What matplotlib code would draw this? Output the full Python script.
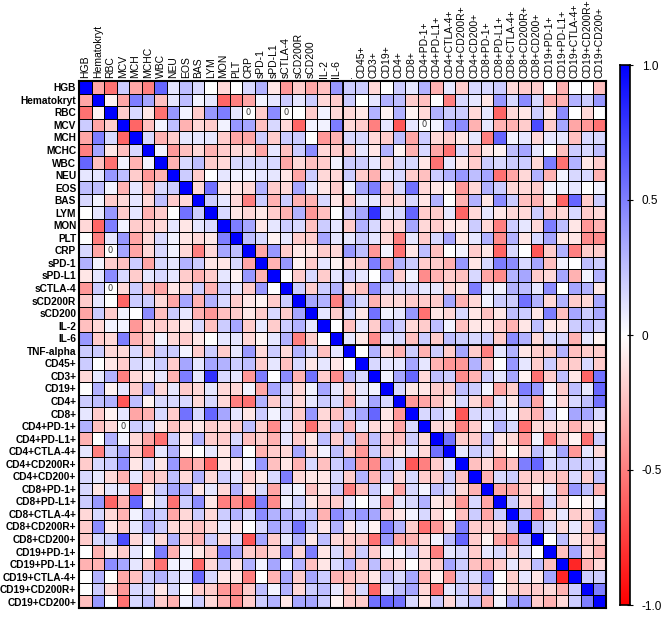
import numpy as np
import matplotlib
matplotlib.use("Agg")
import matplotlib.pyplot as plt
from matplotlib.colors import LinearSegmentedColormap

row_labels = ["HGB", "Hematokryt", "RBC", "MCV", "MCH", "MCHC", "WBC", "NEU", "EOS", "BAS",
              "LYM", "MON", "PLT", "CRP", "sPD-1", "sPD-L1", "sCTLA-4", "sCD200R", "sCD200",
              "IL-2", "IL-6", "TNF-alpha", "CD45+", "CD3+", "CD19+", "CD4+", "CD8+",
              "CD4+PD-1+", "CD4+PD-L1+", "CD4+CTLA-4+", "CD4+CD200R+", "CD4+CD200+",
              "CD8+PD-1+", "CD8+PD-L1+", "CD8+CTLA-4+", "CD8+CD200R+", "CD8+CD200+",
              "CD19+PD-1+", "CD19+PD-L1+", "CD19+CTLA-4+", "CD19+CD200R+", "CD19+CD200+"]
# the TNF-alpha column label is cut off in the original, only a dot shows
col_labels = row_labels[:21] + ["."] + row_labels[22:]

# lower triangle of the correlation matrix, row i holds columns 0..i-1
lower = [
    [],
    [-0.35],
    [-0.55, -0.05],
    [0.2, -0.35, -0.2],
    [-0.35, 0.5, 0.15, -0.6],
    [-0.5, 0.35, -0.1, -0.25, 0.15],
    [0.6, -0.25, -0.55, 0.05, -0.3, 0.05],
    [0.1, 0.1, 0.4, 0.25, -0.2, -0.4, -0.3],
    [0.25, 0.25, 0.05, -0.3, 0.1, -0.25, 0.15, 0.2],
    [0.15, 0.05, -0.2, -0.15, 0.1, -0.15, 0.25, -0.2, -0.15],
    [0.0, 0.1, 0.4, -0.2, 0.1, -0.3, -0.2, 0.0, 0.55, 0.2],
    [-0.15, -0.6, 0.5, 0.05, -0.2, -0.2, -0.15, 0.1, -0.1, 0.1, 0.15],
    [0.0, -0.5, 0.1, 0.4, -0.35, -0.15, 0.15, 0.05, -0.1, -0.15, -0.1, 0.5],
    [0.15, -0.35, 0.0, 0.35, -0.35, -0.15, 0.15, 0.05, -0.15, -0.5, -0.15, 0.35, 0.25],
    [0.3, 0.05, -0.2, -0.25, 0.2, -0.35, 0.15, 0.1, 0.3, 0.2, -0.1, -0.1, 0.15, -0.35],
    [-0.1, 0.1, 0.45, 0.15, -0.2, 0.1, 0.15, 0.1, -0.2, -0.3, -0.2, 0.1, -0.05, 0.4, -0.3],
    [-0.4, 0.2, 0.0, -0.15, 0.2, -0.25, -0.35, -0.1, -0.15, 0.2, -0.3, 0.2, 0.1, -0.2, 0.4, 0.0],
    [-0.2, 0.1, 0.0, -0.6, 0.2, 0.2, -0.15, -0.35, 0.35, -0.3, 0.3, 0.15, -0.2, -0.1, -0.05,
     -0.2, 0.2],
    [-0.35, 0.2, -0.2, 0.05, 0.0, 0.45, -0.25, 0.2, 0.1, -0.3, -0.4, -0.25, -0.2, -0.1, -0.2,
     0.15, -0.2, 0.35],
    [-0.25, -0.15, 0.05, 0.05, -0.4, -0.15, -0.2, -0.15, -0.1, 0.15, -0.25, 0.2, 0.35, -0.2,
     0.1, -0.2, 0.2, 0.3, 0.1],
    [0.4, -0.2, -0.15, 0.5, -0.3, -0.2, 0.05, -0.15, -0.2, -0.1, 0.0, 0.1, 0.1, -0.15, -0.05,
     0.1, 0.3, -0.5, -0.2, 0.0],
    [0.2, 0.2, -0.15, -0.15, 0.15, -0.2, 0.2, 0.2, 0.05, -0.2, 0.2, -0.2, 0.1, 0.4, -0.15,
     0.2, -0.15, 0.3, 0.15, -0.25, 0.1],
    [0.2, 0.0, -0.1, -0.2, 0.15, 0.1, 0.2, -0.2, 0.35, 0.1, 0.35, 0.3, 0.2, 0.25, -0.2, 0.1,
     -0.25, 0.15, -0.1, 0.1, -0.1, 0.0],
    [-0.15, 0.1, 0.3, -0.5, -0.15, -0.1, 0.1, -0.3, 0.5, 0.1, 0.8, 0.15, 0.1, -0.4, 0.5, 0.0,
     0.45, -0.3, 0.55, -0.2, -0.45, 0.3, 0.15],
    [0.0, 0.3, -0.05, 0.1, -0.2, 0.3, -0.15, 0.1, -0.2, -0.15, 0.1, -0.15, -0.15, 0.05, -0.35,
     0.35, 0.15, -0.15, 0.05, 0.35, 0.1, -0.15, 0.1, 0.05],
    [0.2, 0.25, 0.3, -0.65, 0.25, -0.05, 0.15, 0.15, 0.15, -0.15, 0.15, -0.15, -0.5, -0.55,
     0.3, -0.2, 0.15, -0.15, 0.1, 0.2, 0.15, -0.3, 0.1, 0.35, 0.15],
    [0.1, -0.2, -0.05, 0.1, -0.35, -0.3, 0.15, -0.2, 0.55, 0.15, 0.6, 0.35, 0.1, -0.1, 0.2,
     0.05, 0.15, -0.2, 0.4, -0.15, -0.25, 0.2, 0.35, 0.6, -0.1, -0.4],
    [0.3, -0.25, -0.15, 0.0, 0.2, 0.15, -0.1, -0.25, -0.15, -0.1, -0.2, -0.15, -0.2, 0.25,
     -0.2, -0.45, 0.1, -0.2, -0.55, -0.2, 0.2, -0.3, 0.1, -0.15, -0.1, -0.35, 0.15],
    [-0.3, 0.0, 0.3, 0.05, -0.15, -0.35, -0.55, 0.2, -0.1, 0.3, -0.2, -0.2, 0.15, -0.25, -0.2,
     -0.3, 0.1, -0.2, -0.1, 0.25, -0.2, 0.2, -0.3, 0.25, -0.2, -0.25, 0.2, -0.15],
    [0.1, -0.5, 0.2, 0.35, -0.2, -0.55, 0.1, 0.3, -0.05, 0.0, 0.1, -0.1, 0.35, 0.0, -0.3, -0.2,
     -0.15, 0.35, -0.15, 0.05, 0.25, -0.2, -0.4, 0.2, -0.2, -0.1, 0.1, -0.15, 0.55],
    [-0.2, 0.15, 0.2, 0.45, -0.1, 0.15, -0.1, 0.4, -0.4, -0.3, -0.6, -0.1, -0.1, 0.05, 0.4,
     -0.25, -0.1, -0.3, 0.15, -0.25, 0.2, 0.35, -0.4, -0.45, 0.25, 0.15, -0.65, -0.5, -0.2, 0.1],
    [0.15, 0.1, -0.15, -0.3, 0.1, -0.25, -0.2, 0.25, -0.15, 0.3, -0.15, 0.2, 0.1, -0.2, -0.1,
     0.15, 0.5, -0.15, -0.1, -0.1, 0.15, -0.2, 0.3, -0.3, 0.2, -0.15, 0.15, -0.2, -0.2, 0.2,
     -0.25],
    [0.15, -0.1, 0.1, 0.1, -0.5, -0.1, 0.2, 0.35, 0.3, -0.1, 0.1, -0.15, 0.3, -0.1, 0.15, -0.35,
     0.1, 0.05, -0.25, -0.1, 0.2, -0.5, -0.25, 0.2, 0.05, -0.35, 0.15, 0.05, 0.25, 0.15, -0.15,
     -0.3],
    [0.2, 0.4, -0.6, -0.3, 0.6, -0.05, 0.15, -0.55, 0.2, 0.45, -0.1, -0.5, -0.45, -0.6, 0.5,
     -0.45, 0.05, 0.2, -0.1, -0.2, -0.2, 0.1, 0.0, 0.1, -0.35, 0.1, 0.15, 0.3, -0.1, -0.15,
     -0.4, 0.15, -0.35],
    [-0.15, 0.15, -0.15, -0.3, 0.05, 0.25, 0.2, -0.35, -0.15, 0.2, -0.15, 0.2, 0.3, 0.15, 0.45,
     0.3, 0.3, 0.2, 0.25, -0.3, 0.45, 0.3, 0.4, 0.35, -0.2, -0.1, 0.05, 0.15, -0.15, 0.0,
     -0.25, 0.2, -0.35, 0.2],
    [-0.2, 0.45, -0.1, -0.2, 0.1, 0.35, 0.2, -0.15, -0.15, -0.25, -0.15, 0.1, -0.1, 0.0, 0.15,
     0.35, 0.25, 0.55, 0.2, -0.1, 0.3, -0.1, 0.1, -0.05, 0.5, 0.3, -0.2, -0.55, -0.4, -0.15,
     0.5, -0.2, -0.2, -0.15, 0.25],
    [-0.2, 0.15, 0.2, 0.7, -0.15, 0.1, -0.15, 0.3, -0.2, -0.3, 0.2, -0.15, 0.15, -0.65, 0.35,
     -0.2, 0.1, 0.3, -0.1, 0.25, -0.15, -0.2, -0.2, -0.55, 0.4, -0.35, -0.3, -0.15, 0.05, 0.25,
     0.6, -0.2, -0.05, -0.35, -0.45, 0.25],
    [0.0, -0.3, -0.1, -0.2, 0.1, 0.0, 0.5, -0.3, 0.05, -0.1, -0.2, 0.5, 0.35, -0.2, -0.25,
     -0.15, 0.45, -0.15, 0.5, -0.1, 0.15, -0.2, 0.2, -0.2, 0.05, 0.05, 0.15, -0.15, -0.5, 0.1,
     0.15, -0.2, 0.1, 0.15, -0.15, 0.15, 0.0],
    [-0.3, -0.3, 0.45, 0.35, 0.1, -0.25, -0.55, 0.05, 0.05, -0.6, -0.15, 0.25, -0.1, 0.3, 0.05,
     0.35, 0.0, 0.3, -0.25, -0.1, 0.15, 0.3, -0.2, 0.25, -0.2, -0.15, 0.0, -0.15, -0.2, 0.35,
     0.2, -0.25, -0.3, -0.2, 0.1, -0.15, 0.25, -0.25],
    [0.0, 0.3, 0.0, -0.35, -0.25, 0.2, 0.3, 0.15, 0.1, 0.6, 0.15, -0.1, -0.1, -0.5, 0.0, -0.3,
     0.35, -0.2, 0.35, 0.2, -0.3, -0.25, -0.2, -0.1, 0.25, 0.15, 0.35, -0.3, -0.05, -0.4, 0.2,
     0.15, 0.4, 0.0, -0.2, 0.1, -0.1, 0.35, -0.85],
    [0.0, 0.2, -0.15, -0.4, 0.15, 0.15, -0.1, 0.15, 0.0, -0.2, -0.2, -0.4, -0.45, -0.2, 0.25,
     0.05, 0.3, -0.15, 0.2, 0.25, 0.1, -0.2, 0.15, -0.6, 0.1, 0.25, 0.35, -0.15, -0.55, 0.1,
     0.2, -0.2, 0.25, -0.05, -0.15, -0.2, -0.2, -0.15, -0.3, 0.2],
    [-0.25, 0.4, 0.0, -0.55, 0.15, 0.25, -0.2, -0.3, 0.05, 0.2, -0.15, -0.3, -0.45, -0.2, 0.2,
     0.3, -0.1, 0.35, 0.35, 0.2, -0.05, -0.2, -0.2, 0.55, 0.6, 0.55, 0.15, -0.1, 0.2, -0.15,
     0.15, 0.25, -0.3, 0.05, 0.35, 0.4, -0.2, -0.3, -0.15, 0.2, 0.5],
]

# cells that carry a printed "0"
zero_cells = [(2, 13), (2, 16), (3, 27)]

n = len(row_labels)
corr = np.eye(n)
for i, vals in enumerate(lower):
    assert len(vals) == i, (i, len(vals))
    for j, v in enumerate(vals):
        corr[i, j] = v
        corr[j, i] = v

cmap = LinearSegmentedColormap.from_list("rwb", ["#ff0000", "#ffffff", "#0000ff"])

fig = plt.figure(figsize=(6.66, 6.22), dpi=100)
ax = fig.add_axes([79 / 666, 14 / 622, 527 / 666, 527 / 622])
ax.pcolormesh(corr, cmap=cmap, vmin=-1, vmax=1, edgecolors="black", linewidth=0.7)
ax.set_xlim(0, n)
ax.set_ylim(n, 0)

for i, j in zero_cells:
    for r, c in [(i, j), (j, i)]:
        ax.text(c + 0.5, r + 0.5, "0", ha="center", va="center", fontsize=6, color="#333333")

ax.plot([21, 21], [0, 21], color="black", lw=1.3)
ax.plot([21, n], [21, 21], color="black", lw=1.3)

ax.set_yticks(np.arange(n) + 0.5)
ax.set_yticklabels(row_labels, fontsize=7.3, fontweight="bold", family="Liberation Sans")
ax.set_xticks(np.arange(n) + 0.5)
ax.set_xticklabels(col_labels, rotation=90, fontsize=7.5, family="Liberation Sans")
ax.xaxis.tick_top()
ax.tick_params(length=0, pad=2)
for s in ax.spines.values():
    s.set_linewidth(1.5)

cax = fig.add_axes([620 / 666, 17 / 622, 10 / 666, 540 / 622])
grad = np.linspace(-1, 1, 256).reshape(-1, 1)
cax.imshow(grad, aspect="auto", cmap=cmap, origin="lower", extent=[0, 1, -1, 1])
cax.set_xticks([])
cax.yaxis.tick_right()
cax.set_yticks([-1, -0.5, 0, 0.5, 1])
cax.set_yticklabels(["-1.0", "-0.5", "0", "0.5", "1.0"], fontsize=8.5, family="Liberation Sans")
cax.tick_params(axis="y", direction="inout", length=5, width=0.8, pad=6)
for s in cax.spines.values():
    s.set_linewidth(1.2)

fig.savefig("out.png", dpi=100)
